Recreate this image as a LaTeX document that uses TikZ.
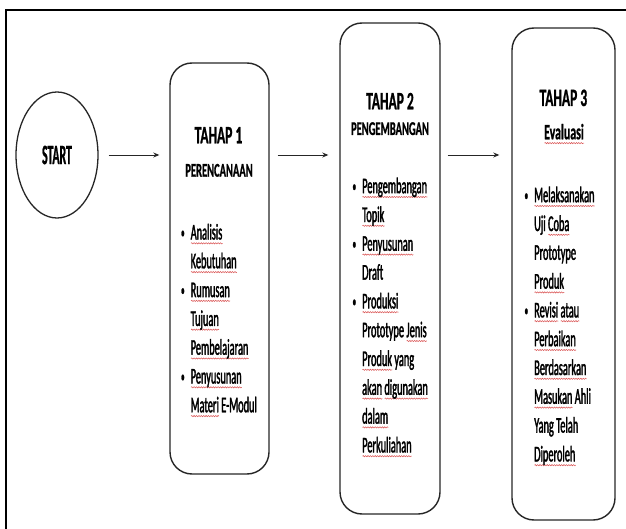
\documentclass[tikz,border=0pt]{standalone}
\usepackage{fontspec}
\setmainfont{Carlito}
\newfontfamily\lfont{Carlito}[FakeStretch=0.46, FakeBold=1.5]
\newfontfamily\hfont{Carlito Bold}[FakeStretch=0.54, FakeBold=0.8]
\newfontfamily\sfontx{Carlito Bold}[FakeStretch=0.42, FakeBold=0.8]
\usetikzlibrary{arrows.meta,shapes.geometric,decorations.pathmorphing}
\definecolor{sqred}{HTML}{DB5A5A}
\newsavebox\rwbox
\newcommand{\rw}[1]{\sbox\rwbox{#1}\rlap{\raisebox{-3.8pt}{\tikz[baseline=0pt]\draw[sqred, line width=0.55pt, decorate, decoration={snake, amplitude=0.6pt, segment length=2.4pt}] (0pt,0pt) -- (\the\wd\rwbox,0pt);}}\usebox\rwbox}
\newlength{\bw}\setlength{\bw}{10.5pt}
\newcommand{\bitem}[1]{\makebox[\bw][l]{\hspace{0.8pt}\raisebox{1.5pt}{\fontsize{16}{16}\selectfont\textbullet}}#1}
\newcommand{\citem}[1]{\hspace*{\bw}#1}
\newcommand{\fl}{\rule{0pt}{17pt}}
\begin{document}
\begin{tikzpicture}[x=1pt,y=-1pt,
  box/.style={draw=black!85, line width=1.4pt, rounded corners=22pt, inner sep=0pt},
  arr/.style={-{Stealth[length=6pt,width=5pt]}, line width=0.9pt, draw=black!85},
  ttl/.style={font=\hfont\fontsize{25}{30}\selectfont, anchor=base, inner sep=0pt},
  sub/.style={font=\hfont\fontsize{19.5}{24}\selectfont, anchor=base, inner sep=0pt},
  list/.style={font=\lfont\fontsize{22.5}{28.8}\selectfont, anchor=north west, align=left, inner sep=0pt}]
\useasboundingbox (0,0) rectangle (626,529);
\clip (0,0) rectangle (626,529);
\draw[line width=2pt] (5.5,10) rectangle (640,545);
% start
\node[ellipse, draw=black!85, line width=1.3pt, minimum width=82pt, minimum height=126pt, inner sep=0pt,
      font=\sfontx\fontsize{28}{32}\selectfont] (start) at (57,155) {START};
% boxes
\node[box, minimum width=99pt, minimum height=411pt] (b1) at (219.5,268.5) {};
\node[box, minimum width=100pt, minimum height=491pt] (b2) at (390,268.5) {};
\node[box, minimum width=103pt, minimum height=492pt] (b3) at (563.5,274) {};
% arrows
\draw[arr, shorten <=10pt, shorten >=10pt] (start.east) -- (start.east -| b1.west);
\draw[arr, shorten <=8pt, shorten >=11pt] (start.east -| b1.east) -- (start.east -| b2.west);
\draw[arr, shorten <=7pt, shorten >=12pt] (start.east -| b2.east) -- (start.east -| b3.west);
% titles
\node[ttl] (t1) at (218.5,143.3) {TAHAP 1};
\node[sub] (s1) at (219,176.7) {PERENCANAAN};
\node[ttl] (t2) at (390,109.3) {TAHAP 2};
\node[sub] (s2) at (390,135) {PENGEMBANGAN};
\node[ttl] (t3) at (563.4,106) {TAHAP 3};
\node[ttl, font=\hfont\fontsize{22}{26}\selectfont] (s3) at (564,139.3) {\rw{Evaluasi}};
% lists
\node[list] (l1) at (180,222.3) {\fl\bitem{\rw{Analisis}}\\ \citem{\rw{Kebutuhan}}\\ \bitem{\rw{Rumusan}}\\ \citem{\rw{Tujuan}}\\ \citem{\rw{Pembelajaran}}\\ \bitem{\rw{Penyusunan}}\\ \citem{\rw{Materi} E-Modul}};
\node[list] (l2) at (351.5,176) {\fl\bitem{\rw{Pengembangan}}\\ \citem{\rw{Topik}}\\ \bitem{\rw{Penyusunan}}\\ \citem{Draft}\\ \bitem{\rw{Produksi}}\\ \citem{Prototype \rw{Jenis}}\\ \citem{\rw{Produk} yang}\\ \citem{\rw{akan} \rw{digunakan}}\\ \citem{\rw{dalam}}\\ \citem{\rw{Perkuliahan}}};
\node[list] (l3) at (523.5,185) {\fl\bitem{\rw{Melaksanakan}}\\ \citem{Uji \rw{Coba}}\\ \citem{Prototype}\\ \citem{\rw{Produk}}\\ \bitem{\rw{Revisi} \rw{atau}}\\ \citem{\rw{Perbaikan}}\\ \citem{\rw{Berdasarkan}}\\ \citem{\rw{Masukan} Ahli}\\ \citem{Yang Telah}\\ \citem{\rw{Diperoleh}}};
\end{tikzpicture}
\end{document}
